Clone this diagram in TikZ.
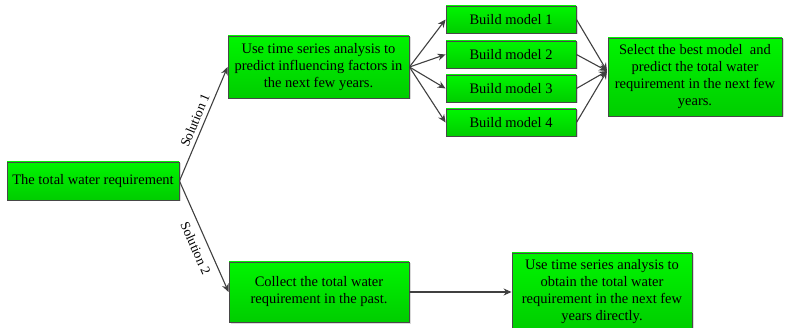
\documentclass[tikz,border=0pt]{standalone}
\usepackage{fontspec}
\setmainfont{Liberation Serif}
\usetikzlibrary{arrows.meta,shadows}

\definecolor{boxtop}{RGB}{0,245,0}
\definecolor{boxbot}{RGB}{0,205,0}
\definecolor{edgegray}{RGB}{72,72,72}
\definecolor{linegray}{RGB}{64,64,64}

\tikzset{
  gbox/.style={draw=edgegray, line width=0.9pt, top color=boxtop, bottom color=boxbot,
    inner sep=0pt, align=center, font=\fontsize{14.5}{17}\selectfont,
    drop shadow={shadow xshift=1.5pt, shadow yshift=-1.5pt, opacity=0.25, fill=black!60}},
  conn/.style={draw=linegray, line width=1.1pt, -{Stealth[length=8pt,width=7pt]}},
  sol/.style={font=\fontsize{13.5}{15}\selectfont, sloped}
}

\begin{document}
\begin{tikzpicture}[x=1pt,y=-1pt]
\useasboundingbox (0,0) rectangle (786,328);

% source of both solution branches
\node[gbox, minimum width=172, minimum height=38] (A) at (93,181) {The total water requirement};

% solution 1 branch
\node[gbox, minimum width=181, minimum height=62] (B) at (318.5,67)
  {Use time series analysis to\\predict influencing factors in\\the next few years.};
\node[gbox, minimum width=130, minimum height=27] (M1) at (511,19.5) {Build model 1};
\node[gbox, minimum width=130, minimum height=27] (M2) at (511,54.5) {Build model 2};
\node[gbox, minimum width=130, minimum height=27] (M3) at (511,88.5) {Build model 3};
\node[gbox, minimum width=130, minimum height=27] (M4) at (511,122.5) {Build model 4};
\node[gbox, minimum width=174, minimum height=78] (C) at (695,77)
  {Select the best model\ \ and\\predict the total water\\requirement in the next few\\years.};
\coordinate (cin) at (607,71);

% solution 2 branch
\node[gbox, minimum width=180, minimum height=60] (D) at (319,292)
  {Collect the total water\\requirement in the past.};
\node[gbox, minimum width=180, minimum height=78] (E) at (602,292)
  {Use time series analysis to\\obtain the total water\\requirement in the next few\\years directly.};

% connectors
\draw[conn] (A.east) -- node[sol, above, pos=0.5, inner sep=4pt] {Solution 1} (B.west);
\draw[conn] (A.east) -- node[sol, below, pos=0.56, inner sep=7pt] {Solution 2} (D.west);
\foreach \m in {M1,M2,M3,M4} {
  \draw[conn] (B.east) -- (\m.west);
  \draw[conn] (\m.east) -- (cin);
}
\draw[conn] (D.east) -- (E.west);
\end{tikzpicture}
\end{document}
